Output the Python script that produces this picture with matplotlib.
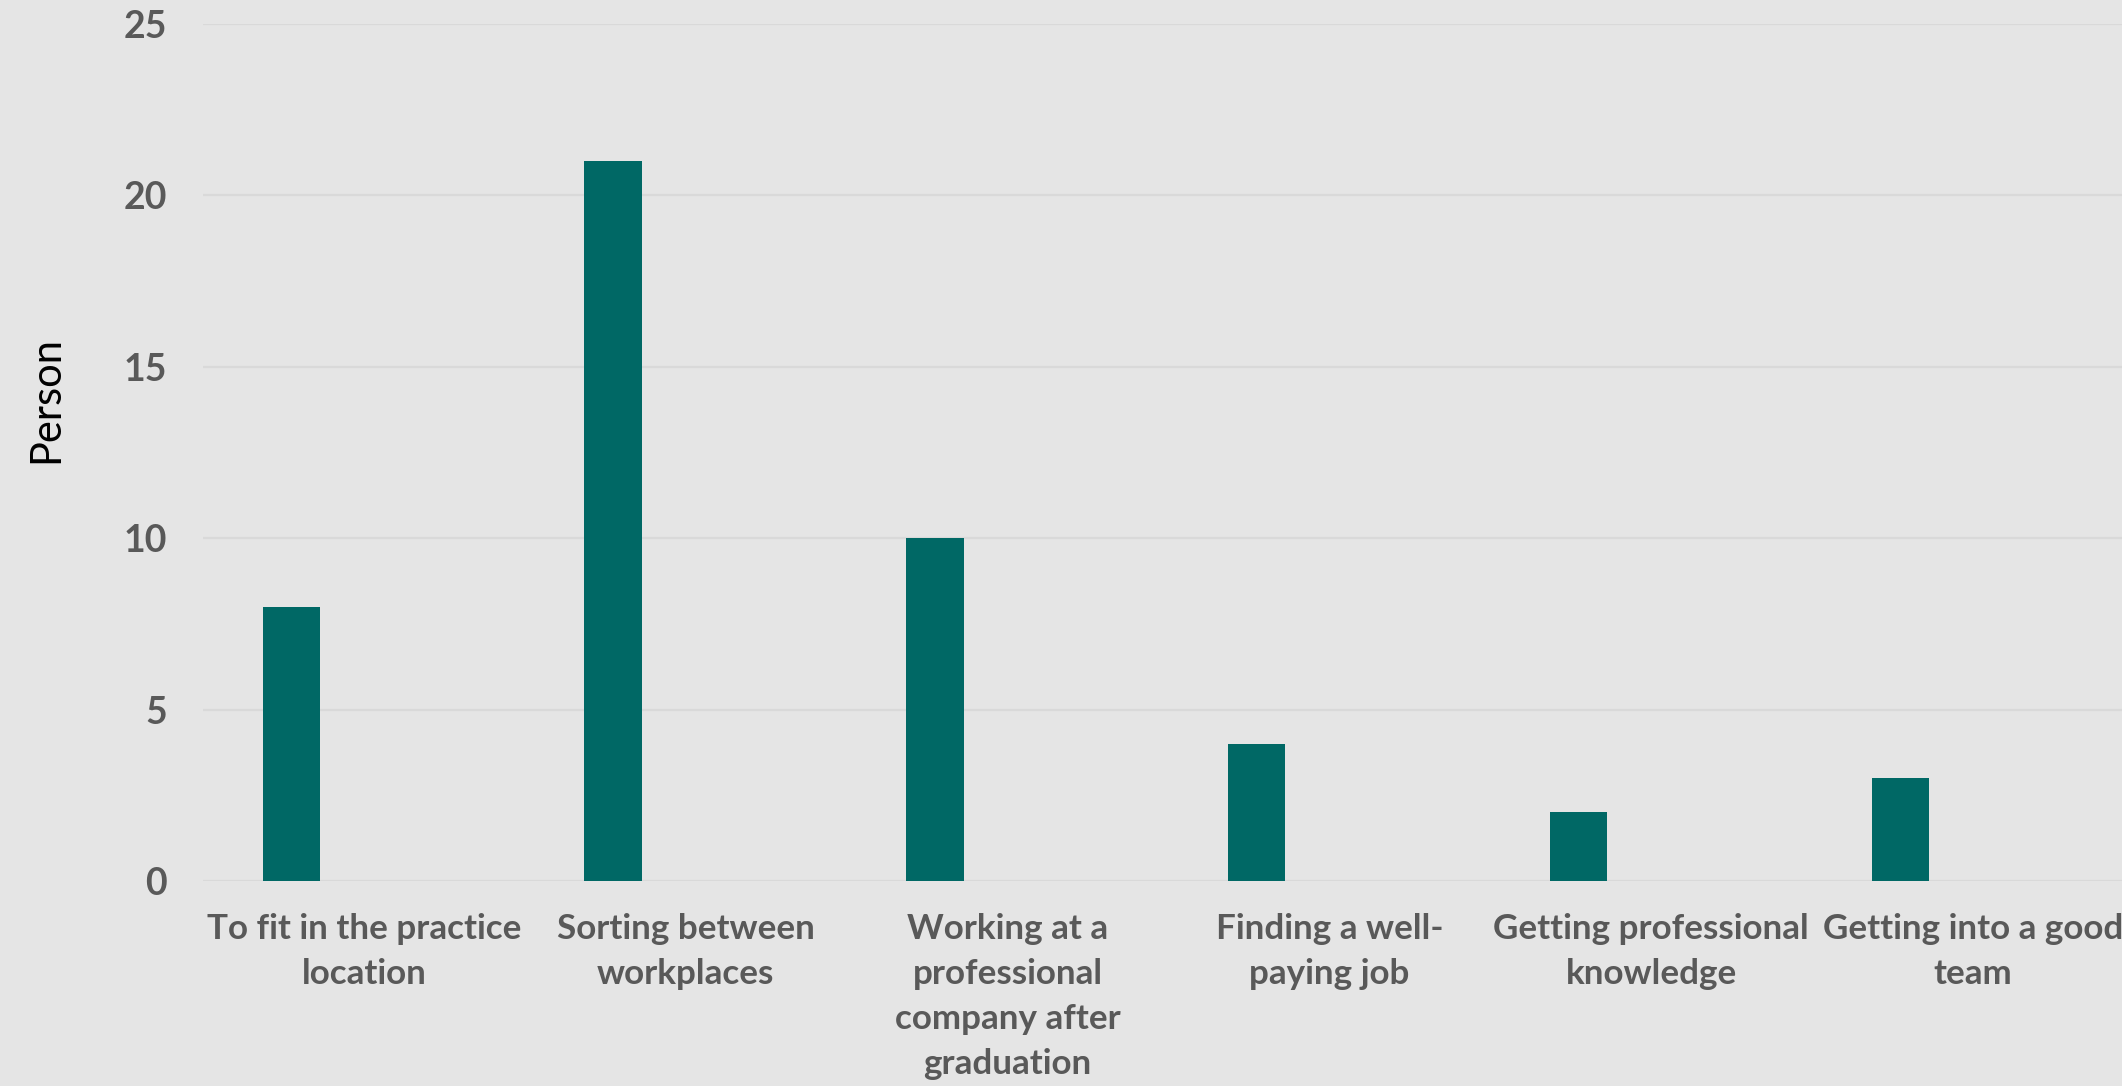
import matplotlib.pyplot as plt
import numpy as np

categories = [
    "To fit in the practice\nlocation",
    "Sorting between\nworkplaces",
    "Working at a\nprofessional\ncompany after\ngraduation",
    "Finding a well-\npaying job",
    "Getting professional\nknowledge",
    "Getting into a good\nteam",
]
persons = [8, 21, 10, 4, 2, 3]
yticks = [0, 5, 10, 15, 20, 25]

bg = "#E5E5E5"
text_col = "#595959"
bar_col = "#006865"

fig = plt.figure(figsize=(21.22, 10.86), dpi=100, facecolor=bg)
ax = fig.add_axes([0.0957, 0.1888, 0.91, 0.7891], facecolor=bg)

x = np.arange(len(categories))
ax.bar(x - 0.226, persons, width=0.178, color=bar_col, zorder=3)

ax.set_xlim(-0.5, len(categories) - 0.5)
ax.set_ylim(0, 25)
ax.set_yticks(yticks)
ax.set_xticks(x)
ax.set_xticklabels(categories, fontfamily="Lato", fontweight="bold",
                   fontsize=25.2, color=text_col, linespacing=1.5)
for lbl in ax.get_yticklabels():
    lbl.set_fontfamily("Lato")
    lbl.set_fontweight("bold")
    lbl.set_fontsize(27)
    lbl.set_color(text_col)

ax.tick_params(axis="x", length=0, pad=23)
ax.tick_params(axis="y", length=0, pad=26)
ax.grid(axis="y", color="#D9D9D9", linewidth=1.6, zorder=0)
for s in ax.spines.values():
    s.set_visible(False)
ax.set_axisbelow(True)

fig.text(0.022, 0.632, "Person", rotation=90, ha="center", va="center",
         fontfamily="Lato", fontsize=30, color="black")

fig.savefig("out.png", dpi=100, facecolor=bg)
